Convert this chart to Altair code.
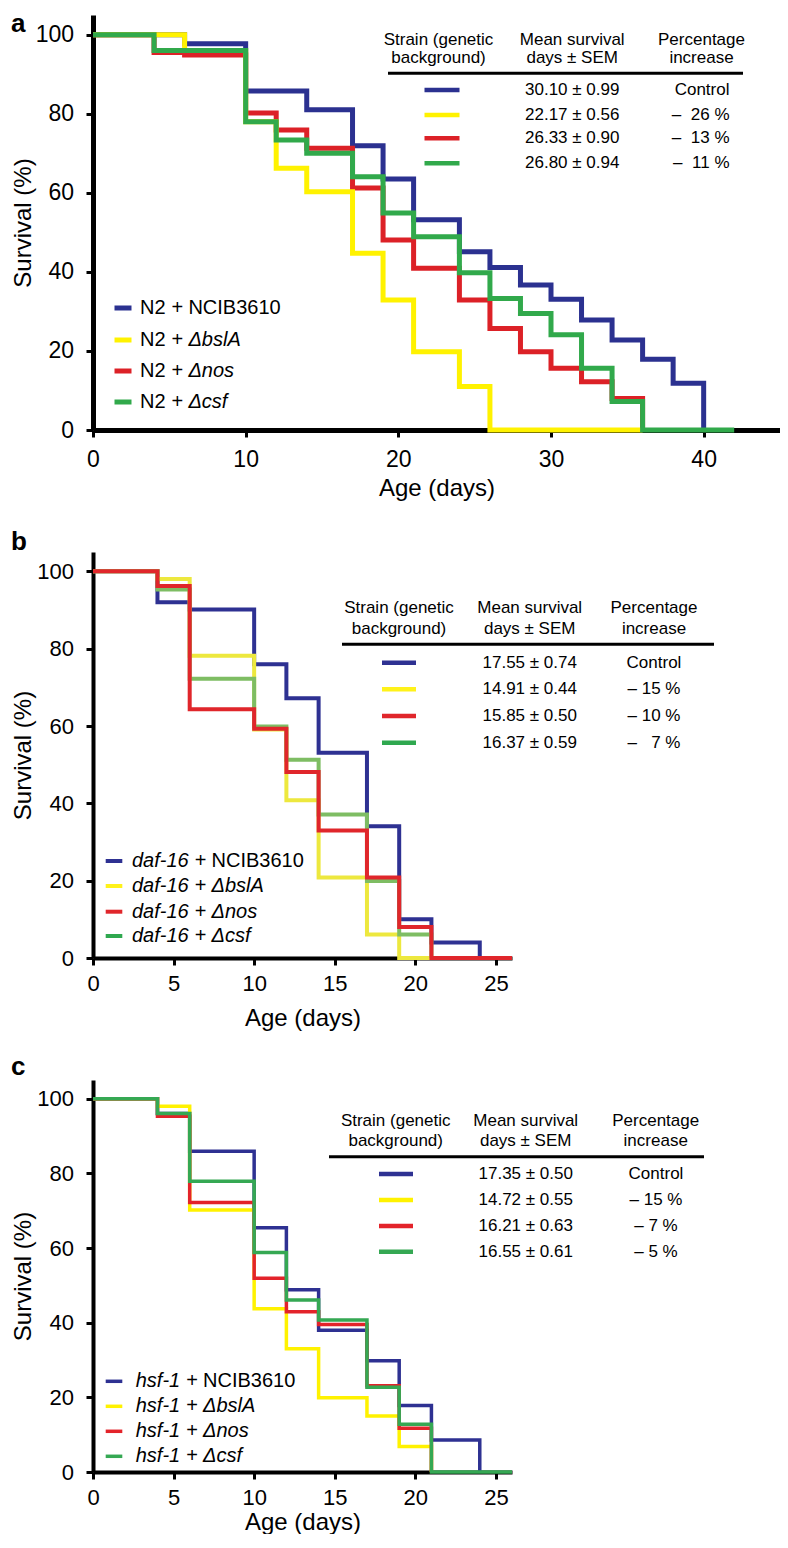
import altair as alt
import pandas as pd

FONT = "Liberation Sans"

# ---------------- data ----------------
# Panel a : N2 background
A_BLUE_DAYS = [0, 6, 10, 14, 17, 19, 21, 24, 26, 28, 30, 32, 34, 36, 38, 40]
A_BLUE_SURV = [100, 97.7, 85.8, 81, 71.9, 63.5, 53.2, 45.1, 41.1, 36.7, 33.1, 27.8, 22.8, 17.9, 11.8, 0]
A_YELLOW_DAYS = [0, 6, 10, 12, 14, 17, 19, 21, 24, 26, 36]
A_YELLOW_SURV = [100, 96, 78, 66.2, 60.3, 44.7, 32.9, 19.8, 11.0, 0, 0]
A_RED_DAYS = [0, 4, 6, 10, 12, 14, 17, 19, 21, 24, 26, 28, 30, 32, 34, 36]
A_RED_SURV = [100, 95.5, 94.9, 80.2, 75.9, 71.3, 61.2, 48.1, 40.9, 32.9, 25.7, 19.8, 15.6, 12.2, 8.0, 0]
A_GREEN_DAYS = [0, 4, 10, 12, 14, 17, 19, 21, 24, 26, 28, 30, 32, 34, 36, 42]
A_GREEN_SURV = [100, 96, 78, 73.4, 70, 64.1, 54.9, 48.9, 39.8, 33.3, 29.5, 24.1, 15.6, 7.2, 0, 0]

# Panel b : daf-16 background
B_BLUE_DAYS = [0, 4, 6, 10, 12, 14, 17, 19, 21, 24]
B_BLUE_SURV = [100, 92, 90.1, 76, 67.2, 53.1, 34.1, 10, 4, 0]
B_YELLOW_DAYS = [0, 4, 6, 10, 12, 14, 17, 19, 21]
B_YELLOW_SURV = [100, 98, 78.2, 59.1, 40.8, 20.8, 6.1, 0, 0]
B_RED_DAYS = [0, 4, 6, 10, 12, 14, 17, 19, 21, 26]
B_RED_SURV = [100, 96.2, 64.3, 59.3, 48.1, 33.0, 20.8, 8.0, 0, 0]
B_GREEN_DAYS = [0, 4, 6, 10, 12, 14, 17, 19, 21]
B_GREEN_SURV = [100, 95.3, 72.2, 59.9, 51.3, 37.1, 19.9, 6.1, 0]

# Panel c : hsf-1 background
C_BLUE_DAYS = [0, 4, 6, 10, 12, 14, 17, 19, 21, 24]
C_BLUE_SURV = [100, 96, 85.9, 65.4, 48.8, 38.0, 29.8, 17.8, 8.6, 0]
C_YELLOW_DAYS = [0, 4, 6, 10, 12, 14, 17, 19, 21]
C_YELLOW_SURV = [100, 98, 70.2, 43.7, 33.0, 19.9, 15.0, 6.8, 0]
C_RED_DAYS = [0, 4, 6, 10, 12, 14, 17, 19, 21]
C_RED_SURV = [100, 95.3, 72.2, 51.9, 42.9, 39.5, 23.1, 11.7, 0]
C_GREEN_DAYS = [0, 4, 6, 10, 12, 14, 17, 19, 21, 26]
C_GREEN_SURV = [100, 96, 77.9, 58.8, 46.1, 40.7, 22.7, 12.8, 0, 0]

STRAIN_NAMES = ["NCIB3610", "\u0394bslA", "\u0394nos", "\u0394csf"]
STRAIN_ITALIC = [False, True, True, True]
HEADERS = [["Strain (genetic", "background)"], ["Mean survival", "days \u00b1 SEM"], ["Percentage", "increase"]]

A_MEANS = ["30.10 \u00b1 0.99", "22.17 \u00b1 0.56", "26.33 \u00b1 0.90", "26.80 \u00b1 0.94"]
A_PCTS = ["Control", "\u2013\u00a0\u00a026 %", "\u2013\u00a0\u00a013 %", "\u2013\u00a0\u00a011 %"]
B_MEANS = ["17.55 \u00b1 0.74", "14.91 \u00b1 0.44", "15.85 \u00b1 0.50", "16.37 \u00b1 0.59"]
B_PCTS = ["Control", "\u2013 15 %", "\u2013 10 %", "\u2013\u00a0\u00a0\u00a07 %"]
C_MEANS = ["17.35 \u00b1 0.50", "14.72 \u00b1 0.55", "16.21 \u00b1 0.63", "16.55 \u00b1 0.61"]
C_PCTS = ["Control", "\u2013 15 %", "\u2013 7 %", "\u2013 5 %"]

A_COLORS = ["#2b3190", "#fff200", "#dc2127", "#31a94b"]
B_LINE_COLORS = ["#2e3192", "#ede83e", "#e0262b", "#7ebd63"]
B_KEY_COLORS = ["#2e3192", "#fff21a", "#e0262b", "#2fa84f"]
C_COLORS = ["#2e3192", "#fff200", "#e3232a", "#35a853"]

LEFT_EDGE = -82  # leftmost extent of texts, relative to the plot origin


# ---------------- helpers ----------------
def T(s, x, y, size, align="center", baseline="middle", style="normal", weight="normal"):
    return alt.Chart(pd.DataFrame({"t": [s]})).mark_text(
        font=FONT, fontSize=size, align=align, baseline=baseline,
        fontStyle=style, fontWeight=weight, color="black"
    ).encode(text="t:N", x=alt.value(x), y=alt.value(y))


def R(x1, x2, y, color, w):
    return alt.Chart(pd.DataFrame({"v": [0]})).mark_rule(
        color=color, strokeWidth=w, strokeCap="butt"
    ).encode(x=alt.value(x1), x2=alt.value(x2), y=alt.value(y))


def panel(cfg):
    W, H = cfg["W"], cfg["H"]
    xax = alt.Axis(values=cfg["xticks"], title="Age (days)", grid=False,
                   labelFont=FONT, labelFontSize=cfg["fs"], labelColor="black",
                   labelPadding=cfg["xlp"], labelFlush=False,
                   titleFont=FONT, titleFontSize=24, titleFontWeight="normal", titleColor="black",
                   titleY=cfg["xty"], titleBaseline="middle",
                   domainColor="black", domainWidth=cfg["dw"], tickColor="black",
                   tickWidth=3, tickSize=7)
    yax = alt.Axis(values=[0, 20, 40, 60, 80, 100], title="Survival (%)", grid=False,
                   labelFont=FONT, labelFontSize=cfg["fs"], labelColor="black",
                   labelPadding=12.5, labelFlush=False,
                   titleFont=FONT, titleFontSize=24, titleFontWeight="normal", titleColor="black",
                   titleX=LEFT_EDGE + 12, titleY=H / 2, titleAngle=270, titleAlign="center",
                   titleBaseline="middle",
                   domainColor="black", domainWidth=cfg["dw"], tickColor="black",
                   tickWidth=3, tickSize=7)
    xs = alt.Scale(domain=cfg["xdom"], nice=False, zero=False)
    ys = alt.Scale(domain=[0, 105], nice=False)
    layers = []
    for (days, surv), col in zip(cfg["series"], cfg["line_colors"]):
        df = pd.DataFrame({"day": days, "surv": surv})
        layers.append(
            alt.Chart(df).mark_line(interpolate="step-after", strokeWidth=cfg["lw"], color=col,
                                    strokeCap="butt", strokeJoin="miter")
            .encode(x=alt.X("day:Q", scale=xs, axis=xax), y=alt.Y("surv:Q", scale=ys, axis=yax))
        )
    layers = [layers[i] for i in cfg["order"]]

    # panel letter
    layers.append(T(cfg["letter"], LEFT_EDGE, cfg["letter_y"], 26, align="left",
                    baseline=cfg["letter_base"], weight="bold"))

    # table
    tb = cfg["table"]
    for (l1, l2), cx in zip(HEADERS, [tb["sx"], tb["mx"], tb["px"]]):
        layers.append(T(l1, cx, tb["h1"], 17))
        layers.append(T(l2, cx, tb["h2"], 17))
    layers.append(R(tb["r1"], tb["r2"], tb["ry"], "black", 3))
    for i in range(4):
        y = tb["rows"][i]
        layers.append(R(tb["k1"], tb["k2"], y, cfg["key_colors"][i], 4.5))
        layers.append(T(cfg["means"][i], tb["mx"], y, 17))
        layers.append(T(cfg["pcts"][i], tb["pvx"], y, 17, align=tb["palign"]))

    # legend
    lg = cfg["legend"]
    for i in range(4):
        y = H - lg["rows"][i]
        layers.append(R(lg["k1"], lg["k2"], y, cfg["key_colors"][i], lg["kw"]))
        x0 = lg["tx"]
        layers.append(T(cfg["prefix"], x0, y, 20, align="left",
                        style="italic" if cfg["prefix_italic"] else "normal"))
        layers.append(T("+", x0 + cfg["prefix_w"] + 6.0, y, 20, align="left"))
        layers.append(T(STRAIN_NAMES[i], x0 + cfg["prefix_w"] + 22.8, y, 20, align="left",
                        style="italic" if STRAIN_ITALIC[i] else "normal"))
    return alt.layer(*layers).properties(width=W, height=H)


cfg_a = dict(
    W=687, H=415, xdom=[0, 45], xticks=[0, 10, 20, 30, 40], fs=23, xlp=11, xty=58, dw=5, lw=5,
    series=[(A_BLUE_DAYS, A_BLUE_SURV), (A_YELLOW_DAYS, A_YELLOW_SURV),
            (A_RED_DAYS, A_RED_SURV), (A_GREEN_DAYS, A_GREEN_SURV)],
    line_colors=A_COLORS, key_colors=A_COLORS, order=[0, 2, 1, 3],
    letter="a", letter_y=-4, letter_base="top",
    table=dict(sx=345.5, mx=479.2, px=608.5, pvx=636.5, palign="right", h1=25, h2=43.3,
               r1=295, r2=650, ry=58.3, k1=331.5, k2=366.5, rows=[75, 100, 123.3, 148.3]),
    means=A_MEANS, pcts=A_PCTS,
    legend=dict(rows=[122, 90, 59, 28], k1=21.5, k2=38.5, kw=5, tx=47),
    prefix="N2", prefix_italic=False, prefix_w=25.6,
)

cfg_b = dict(
    W=419, H=406, xdom=[0, 26], xticks=[0, 5, 10, 15, 20, 25], fs=22, xlp=8.5, xty=60, dw=4, lw=4,
    series=[(B_BLUE_DAYS, B_BLUE_SURV), (B_YELLOW_DAYS, B_YELLOW_SURV),
            (B_RED_DAYS, B_RED_SURV), (B_GREEN_DAYS, B_GREEN_SURV)],
    line_colors=B_LINE_COLORS, key_colors=B_KEY_COLORS, order=[0, 1, 3, 2],
    letter="b", letter_y=-2.5, letter_base="alphabetic",
    table=dict(sx=306, mx=436.7, px=561, pvx=561, palign="center", h1=55.7, h2=76.7,
               r1=249, r2=621, ry=92.3, k1=289, k2=323, rows=[110.7, 137.3, 164, 190.7]),
    means=B_MEANS, pcts=B_PCTS,
    legend=dict(rows=[97, 72, 46.3, 22], k1=12.7, k2=29.3, kw=4, tx=39),
    prefix="daf-16", prefix_italic=True, prefix_w=56.7,
)

cfg_c = dict(
    W=419, H=392, xdom=[0, 26], xticks=[0, 5, 10, 15, 20, 25], fs=22, xlp=8.5, xty=50, dw=4, lw=3.5,
    series=[(C_BLUE_DAYS, C_BLUE_SURV), (C_YELLOW_DAYS, C_YELLOW_SURV),
            (C_RED_DAYS, C_RED_SURV), (C_GREEN_DAYS, C_GREEN_SURV)],
    line_colors=C_COLORS, key_colors=C_COLORS, order=[0, 1, 2, 3],
    letter="c", letter_y=-5, letter_base="alphabetic",
    table=dict(sx=302.7, mx=432.7, px=562.7, pvx=563, palign="center", h1=40.7, h2=61,
               r1=236, r2=611, ry=76.7, k1=286, k2=320, rows=[94, 120, 146, 171.7]),
    means=C_MEANS, pcts=C_PCTS,
    legend=dict(rows=[90.7, 65.7, 40.7, 15.7], k1=12.7, k2=29.3, kw=3.5, tx=42.7),
    prefix="hsf-1", prefix_italic=True, prefix_w=44.5,
)

chart = alt.vconcat(panel(cfg_a), panel(cfg_b), panel(cfg_c), spacing=122, bounds="flush") \
    .properties(padding={"left": 3, "top": 3, "right": 0, "bottom": 0}) \
    .configure_view(stroke=None)

chart.save("out.html", embed_options={"renderer": "svg", "actions": False})
